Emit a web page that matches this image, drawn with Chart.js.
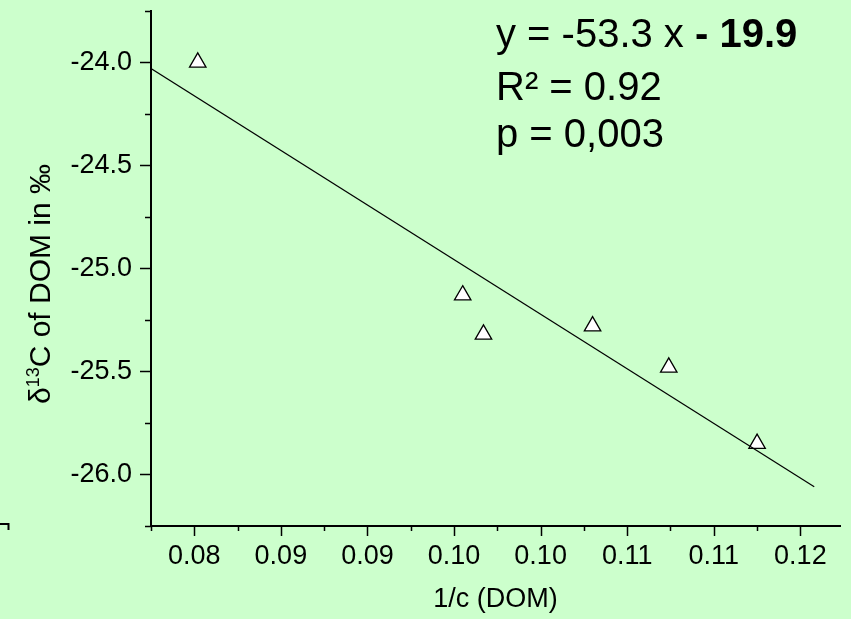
<!DOCTYPE html>
<html>
<head>
  <title>d13C of DOM vs 1/c</title>
  <script src="https://cdn.jsdelivr.net/npm/chart.js@4.4.1/dist/chart.umd.min.js"></script>
  <style>
    body {
      margin: 0;
      padding: 0;
      overflow: hidden;
      background: #ccffcc;
    }
    canvas {
      display: block;
    }
  </style>
</head>
<body>
  <canvas id="dom" width="851" height="619"></canvas>

  <script>
    // measured samples (1/c vs delta 13C)
    const invConc = [0.0802, 0.0955, 0.0967, 0.1030, 0.1074, 0.1125];
    const d13C = [-24.00, -25.13, -25.32, -25.28, -25.48, -25.85];

    // fitted line, ends
    const fitX = [0.0775, 0.1158];
    const fitY = [-24.03, -26.06];

    // axes
    const xMajor = [0.080, 0.085, 0.090, 0.095, 0.100, 0.105, 0.110, 0.115];
    const xTickLabels = ['0.08', '0.09', '0.09', '0.10', '0.10', '0.11', '0.11', '0.12'];
    const xMinor = [0.0775, 0.0825, 0.0875, 0.0925, 0.0975, 0.1025, 0.1075, 0.1125];
    const yMajor = [-26.0, -25.5, -25.0, -24.5, -24.0];
    const yTickLabels = ['-26.0', '-25.5', '-25.0', '-24.5', '-24.0'];
    const yMinor = [-26.25, -25.75, -25.25, -24.75, -24.25, -23.75];

    const statLines = ['y = -53.3 x ', 'R² = 0.92', 'p = 0,003'];
    const statBold = '- 19.9';

    const FONT = '"Liberation Sans", Arial, Helvetica, sans-serif';

    // green page background
    const background = {
      id: 'background',
      beforeDraw(chart) {
        const ctx = chart.ctx;
        ctx.save();
        ctx.fillStyle = '#ccffcc';
        ctx.fillRect(0, 0, chart.width, chart.height);
        ctx.restore();
      }
    };

    // major + minor tick marks, drawn outside the plot
    const tickMarks = {
      id: 'tickMarks',
      afterDraw(chart) {
        const ctx = chart.ctx;
        const xs = chart.scales.x, ys = chart.scales.y;
        const a = chart.chartArea;
        ctx.save();
        ctx.strokeStyle = '#000';
        ctx.lineWidth = 1.5;
        ctx.beginPath();
        xMajor.forEach(v => {
          const p = Math.round(xs.getPixelForValue(v)) + 0.5;
          ctx.moveTo(p, a.bottom); ctx.lineTo(p, a.bottom + 10);
        });
        xMinor.forEach(v => {
          const p = Math.round(xs.getPixelForValue(v)) + 0.5;
          ctx.moveTo(p, a.bottom); ctx.lineTo(p, a.bottom + 5);
        });
        yMajor.forEach(v => {
          const p = Math.round(ys.getPixelForValue(v)) + 0.5;
          ctx.moveTo(a.left, p); ctx.lineTo(a.left - 11, p);
        });
        yMinor.forEach(v => {
          const p = Math.round(ys.getPixelForValue(v)) + 0.5;
          ctx.moveTo(a.left, p); ctx.lineTo(a.left - 6, p);
        });
        ctx.stroke();

        // bit of a neighbouring frame at the lower left edge
        ctx.lineWidth = 2;
        ctx.beginPath();
        ctx.moveTo(0, 524); ctx.lineTo(8.5, 524); ctx.lineTo(8.5, 530);
        ctx.stroke();
        ctx.restore();
      }
    };

    // y title with a real superscript, and the regression stats
    const annotations = {
      id: 'annotations',
      afterDraw(chart) {
        const ctx = chart.ctx;
        ctx.save();
        ctx.fillStyle = '#000';

        // rotated y title
        const big = '30px ' + FONT, small = '18px ' + FONT;
        ctx.font = big;
        const wD = ctx.measureText('δ').width;
        const wRest = ctx.measureText('C of DOM in ‰').width;
        ctx.font = small;
        const wSup = ctx.measureText('13').width;
        const total = wD + wSup + wRest;
        ctx.translate(50, 284);
        ctx.rotate(-Math.PI / 2);
        ctx.textBaseline = 'alphabetic';
        let x = -total / 2;
        ctx.font = big;
        ctx.fillText('δ', x, 0);
        x += wD;
        ctx.font = small;
        ctx.fillText('13', x, -11);
        x += wSup;
        ctx.font = big;
        ctx.fillText('C of DOM in ‰', x, 0);
        ctx.setTransform(1, 0, 0, 1, 0, 0);

        // equation block
        ctx.textBaseline = 'alphabetic';
        ctx.font = '40px ' + FONT;
        ctx.fillText(statLines[0], 496, 47);
        const w0 = ctx.measureText(statLines[0]).width;
        ctx.font = 'bold 40px ' + FONT;
        ctx.fillText(statBold, 496 + w0, 47);
        ctx.font = '40px ' + FONT;
        ctx.fillText(statLines[1], 496, 100);
        ctx.fillText(statLines[2], 496, 147);
        ctx.restore();
      }
    };

    const ctx = document.getElementById('dom').getContext('2d');

    new Chart(ctx, {
      type: 'scatter',
      data: {
        datasets: [
          {
            label: 'fit',
            type: 'line',
            data: fitX.map((x, i) => ({ x: x, y: fitY[i] })),
            borderColor: '#000',
            borderWidth: 1.2,
            pointRadius: 0,
            fill: false,
            order: 0
          },
          {
            label: 'DOM',
            data: invConc.map((x, i) => ({ x: x, y: d13C[i] })),
            pointStyle: 'triangle',
            pointRadius: 9.5,
            pointHoverRadius: 9.5,
            backgroundColor: '#ffffff',
            borderColor: '#000',
            borderWidth: 1.3,
            order: 1
          }
        ]
      },
      options: {
        responsive: false,
        devicePixelRatio: 1,
        animation: false,
        layout: { padding: { top: 1, right: 0, left: 0, bottom: 0 } },
        plugins: {
          legend: { display: false },
          tooltip: { enabled: false }
        },
        scales: {
          x: {
            type: 'linear',
            min: 0.0775,
            max: 0.1173,
            afterFit: s => {
              s.height = 93;
              s.paddingLeft = 0; s.paddingRight = 0;
            },
            afterBuildTicks: s => { s.ticks = xMajor.map(v => ({ value: v })); },
            grid: { display: true, drawOnChartArea: false, drawTicks: false },
            border: { display: true, color: '#000', width: 2 },
            ticks: {
              autoSkip: false,
              maxRotation: 0,
              padding: 14,
              color: '#000',
              font: { family: FONT, size: 27 },
              callback: (v, i) => xTickLabels[i]
            },
            title: {
              display: true,
              text: '1/c (DOM)',
              color: '#000',
              font: { family: FONT, size: 27 },
              padding: { top: 0, bottom: 3 }
            }
          },
          y: {
            type: 'linear',
            min: -26.25,
            max: -23.75,
            afterFit: s => {
              s.width = 151;
              s.paddingTop = 0; s.paddingBottom = 0;
            },
            afterBuildTicks: s => { s.ticks = yMajor.map(v => ({ value: v })); },
            grid: { display: true, drawOnChartArea: false, drawTicks: false },
            border: { display: true, color: '#000', width: 2 },
            ticks: {
              autoSkip: false,
              padding: 19,
              color: '#000',
              font: { family: FONT, size: 27 },
              callback: (v, i) => yTickLabels[i]
            }
          }
        }
      },
      plugins: [background, tickMarks, annotations]
    });
  </script>
</body>
</html>
